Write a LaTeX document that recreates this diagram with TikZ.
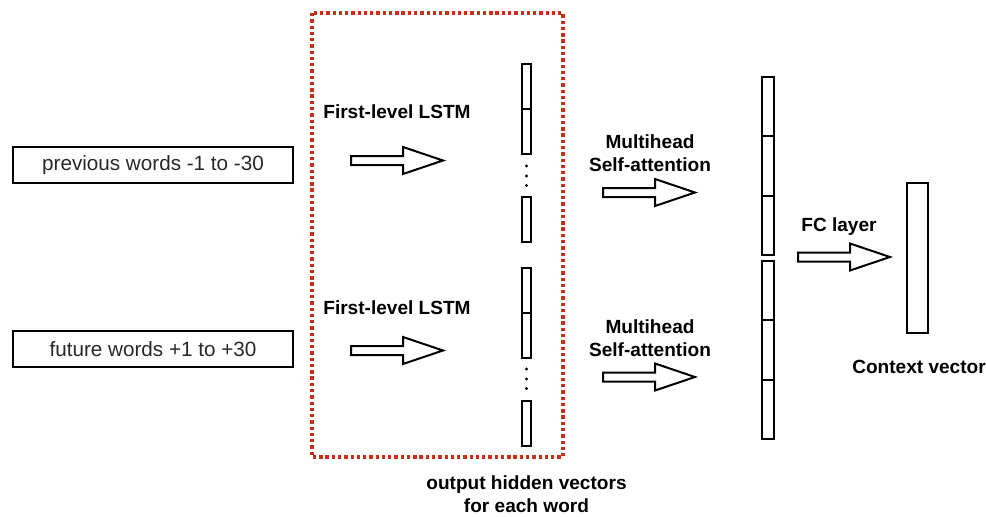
\documentclass[tikz,border=0pt]{standalone}
\usepackage{fontspec}
\setmainfont{Liberation Sans}
\usetikzlibrary{positioning}
\definecolor{dotred}{RGB}{204,45,20}
\definecolor{lighttext}{RGB}{40,40,40}
\newcommand\blockarr[2]{% shaft left x, center y (px units)
  \draw[line width=1.5pt, fill=white, line join=miter]
    (#1,#2-4.5) -- ++(52,0) -- ++(0,-9) -- ++(40,13.5) -- ++(-40,13.5) -- ++(0,-9) -- ++(-52,0) -- cycle;}
\begin{document}
\begin{tikzpicture}[x=0.75pt,y=-0.75pt]
\tikzset{
  inbox/.style={draw, line width=1.5pt, minimum width=210pt, minimum height=27pt, inner sep=0pt,
    font=\fontsize{15.5}{18}\selectfont, text=lighttext},
  lbl/.style={font=\bfseries\fontsize{14.3}{17}\selectfont, align=center, inner sep=0pt},
  vcell/.style={draw, line width=1.5pt, minimum width=6.75pt, minimum height=33.75pt, inner sep=0pt},
  wcell/.style={draw, line width=1.5pt, minimum width=9pt, minimum height=44.5pt, inner sep=0pt},
  dotnode/.style={circle, fill=black, inner sep=0pt, minimum size=2.6pt}
}
\useasboundingbox (0,0) rectangle (986,517);

% red dotted frame
\draw[dotred, line width=2.3pt, dash pattern=on 2.5pt off 2.2pt] (312,13) rectangle (563,457);

% input boxes
\node[inbox] (prev) at (153,165) {previous words -1 to -30};
\node[inbox] (fut) at (153,349) {future words +1 to +30};

% labels
\node[lbl] (l1) at (397,112) {First-level LSTM};
\node[lbl] (l2) at (397,308) {First-level LSTM};
\node[lbl] (m1) at (650,153) {Multihead\\Self-attention};
\node[lbl] (m2) at (650,338.5) {Multihead\\Self-attention};
\node[lbl] (fc) at (839,227) {FC layer};
\node[lbl] (cv) at (919,367) {Context vector};
\node[lbl] (ohv) at (526.5,494) {output hidden vectors\\for each word};

% block arrows
\blockarr{351}{160.5}
\blockarr{351}{350.5}
\blockarr{603}{192.5}
\blockarr{603}{377}
\blockarr{798}{257}

% first column of hidden vectors
\node[vcell] (a1) at (526.5,86.5) {};
\node[vcell] (a2) at (526.5,131.5) {};
\node[vcell] (a3) at (526.5,219.5) {};
\node[dotnode] (ad1) at (526.5,166) {};
\node[dotnode] (ad2) at (526.5,176) {};
\node[dotnode] (ad3) at (526.5,185.5) {};
\node[vcell] (b1) at (526.5,290.5) {};
\node[vcell] (b2) at (526.5,335.5) {};
\node[vcell] (b3) at (526.5,423.5) {};
\node[dotnode] (bd1) at (526.5,369) {};
\node[dotnode] (bd2) at (526.5,379) {};
\node[dotnode] (bd3) at (526.5,388.5) {};

% second column
\node[wcell] (c1) at (768,106.67) {};
\node[wcell] (c2) at (768,166) {};
\node[wcell] (c3) at (768,225.33) {};
\node[wcell] (d1) at (768,290.67) {};
\node[wcell] (d2) at (768,350) {};
\node[wcell] (d3) at (768,409.33) {};

% context vector
\node[draw, line width=1.5pt, minimum width=15.75pt, minimum height=112.5pt, inner sep=0pt] (ctx) at (917.5,258) {};
\end{tikzpicture}
\end{document}
